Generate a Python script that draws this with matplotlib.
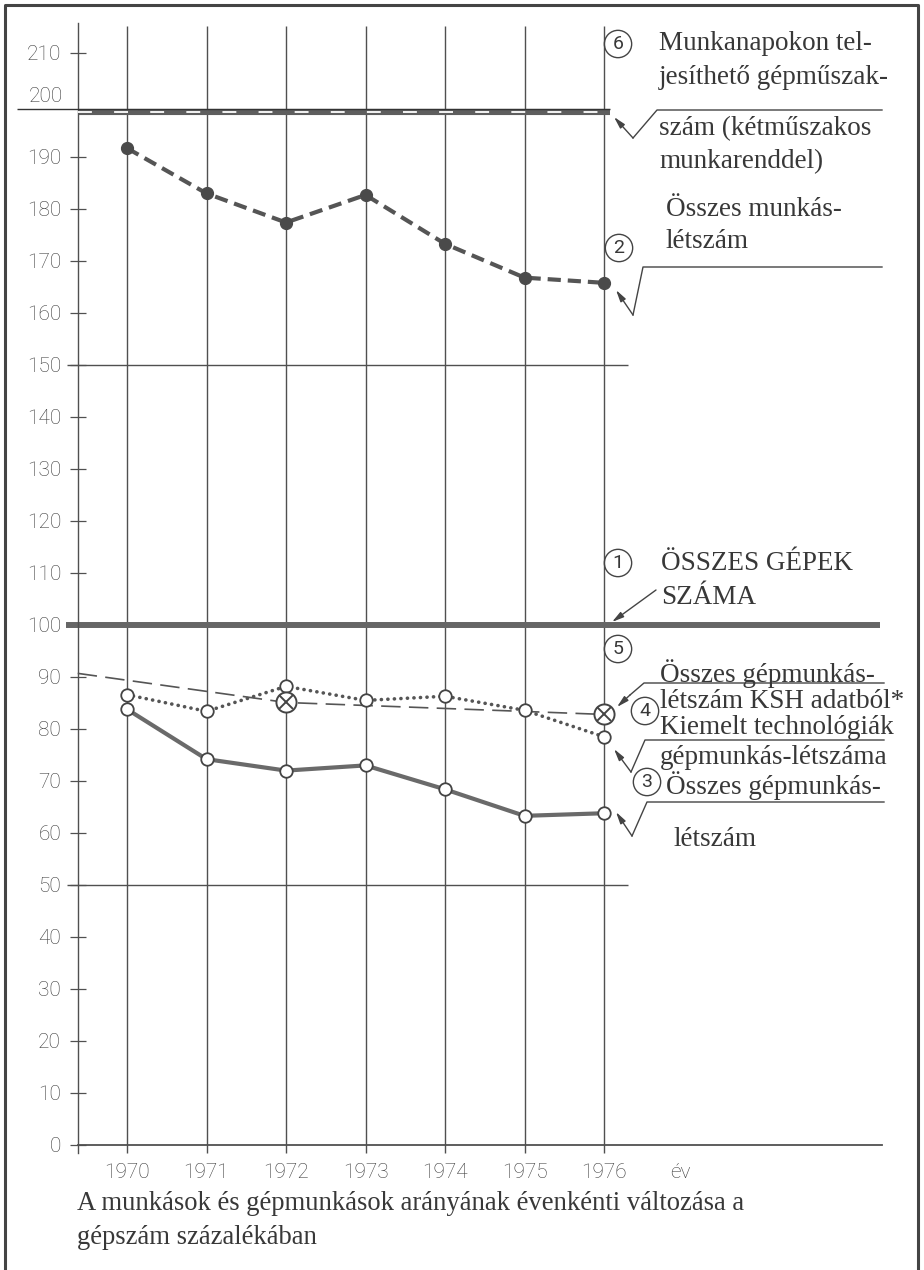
import matplotlib
matplotlib.use("Agg")
import matplotlib.pyplot as plt
import matplotlib.transforms as mtransforms
from matplotlib.lines import Line2D

plt.rcParams["lines.scale_dashes"] = False

# ---------------- data ----------------
years = [1970, 1971, 1972, 1973, 1974, 1975, 1976]
total_workers = [191.7, 183.0, 177.4, 182.7, 173.3, 166.8, 165.8]      # (2)
machine_workers = [83.8, 74.2, 72.0, 73.0, 68.4, 63.3, 63.8]          # (3)
key_tech_workers = [86.6, 83.4, 88.2, 85.5, 86.3, 83.6, 78.5]         # (4)
ksh_years = [1972, 1976]                                                # (5)
ksh_values = [85.1, 82.8]
ksh_trend_years = [1969.38, 1972, 1976]
ksh_trend_values = [90.7, 85.1, 82.8]
machines_total = 100                                                    # (1)
shift_capacity = 198.6                                                  # (6)
ytick_values = [v for v in range(0, 220, 10) if v != 200]
year_labels = [str(y) for y in years]

# ---------------- figure / axes ----------------
W, H = 924, 1270
fig = plt.figure(figsize=(W / 100, H / 100), dpi=100)
ax = fig.add_axes([0, 0, 1, 1])
X1970, PXY = 127, 79.5
Y0, PXU = 1145, 5.2
ax.set_xlim(1970 - X1970 / PXY, 1970 + (W - X1970) / PXY)
ax.set_ylim(-(H - Y0) / PXU, Y0 / PXU)
ax.patch.set_alpha(0)

pix = mtransforms.Affine2D().scale(1 / W, -1 / H).translate(0, 1) + fig.transFigure

GRID = "#505050"
LBL = "#3a3a3a"
SERIF = "Liberation Serif"
SANS = "Roboto"

axis_x = 1969.38
for s in ["top", "right"]:
    ax.spines[s].set_visible(False)
ax.spines["left"].set_position(("data", axis_x))
ax.spines["left"].set_bounds(-1.6, 215.8)
ax.spines["left"].set_color(GRID)
ax.spines["left"].set_linewidth(1.0)
ax.spines["bottom"].set_position(("data", 0))
ax.spines["bottom"].set_bounds(axis_x, 1979.5)
ax.spines["bottom"].set_color(GRID)
ax.spines["bottom"].set_linewidth(1.3)

ax.set_yticks(ytick_values)
ax.set_yticklabels([str(v) for v in ytick_values], fontfamily=SANS, fontweight="light")
ax.tick_params(axis="y", direction="inout", length=12, width=0.9, pad=6,
               labelsize=15, colors=GRID, labelcolor=LBL)
ax.set_xticks(years + [1976.96])
ax.set_xticklabels(year_labels + ["év"], fontfamily=SANS, fontweight="light")
ax.tick_params(axis="x", length=0, pad=13, labelsize=15, labelcolor=LBL)

# "200" label (no tick)
fig.text(63, 97, "200", transform=pix, ha="right", va="center",
         fontsize=15, fontfamily=SANS, fontweight="light", color=LBL)

# vertical year lines
ax.vlines(years, -1.6, 215.2, color=GRID, lw=1.0, zorder=1)
# thin horizontal lines at 150 and 50
ax.hlines([150, 50], axis_x - 0.14, 1976.3, color=GRID, lw=1.0, zorder=1)

# (6) shift capacity line
ax.hlines(shift_capacity + 0.6, 1968.62, 1976.08, color="#333333", lw=1.0, zorder=3)
ax.hlines(shift_capacity, axis_x, 1976.08, color="#5e5e5e", lw=4.4, zorder=2)
ax.hlines(shift_capacity, axis_x, 1976.08, color="white", lw=1.3,
          linestyles=(0, (10, 16)), zorder=3)

# (1) total machines
ax.hlines(machines_total, 1969.23, 1979.47, color="#666666", lw=4.3, zorder=2)

# (2) total workers
ax.plot(years, total_workers, color="#555555", lw=3.0, dashes=(9.5, 5),
        marker="o", ms=8.5, mfc="#4a4a4a", mec="#4a4a4a", zorder=4)

# (5) KSH trend
ax.plot(ksh_trend_years, ksh_trend_values, color="#555555", lw=1.2,
        dashes=(14, 6), zorder=3)

# (4) key technologies, dotted
ax.plot(years, key_tech_workers, color="#555555", lw=2.6, dashes=(0.1, 4.6),
        dash_capstyle="round", zorder=4)
ax.plot(years, key_tech_workers, ls="none", marker="o", ms=9, mfc="white",
        mec="#444444", mew=1.3, zorder=6)

# (3) machine workers
ax.plot(years, machine_workers, color="#6a6a6a", lw=3.0, solid_capstyle="round",
        zorder=4)
ax.plot(years, machine_workers, ls="none", marker="o", ms=9, mfc="white",
        mec="#444444", mew=1.3, zorder=6)

# (5) KSH points ⊗
ax.plot(ksh_years, ksh_values, ls="none", marker="o", ms=14.5, mfc="white",
        mec="#444444", mew=1.4, zorder=7)
ax.plot(ksh_years, ksh_values, ls="none", marker="x", ms=9.5, mec="#444444",
        mew=1.4, zorder=8)

ax.set_zorder(1)

# ---------------- annotations (right side) ----------------
def txt(x, y, s, size=19.5, **kw):
    fig.text(x, y, s, transform=pix, ha="left", va="center", fontsize=size,
             fontfamily=SERIF, color="#383838", **kw)

def circ(x, y, d):
    fig.text(x, y, d, transform=pix, ha="center", va="center", fontsize=14,
             fontfamily=SANS, color="#383838",
             bbox=dict(boxstyle="circle,pad=0.24", fc="none", ec="#444444", lw=1.0))

def seg(pts, lw=1.0):
    xs = [p[0] for p in pts]
    ys = [p[1] for p in pts]
    fig.add_artist(Line2D(xs, ys, transform=pix, color="#444444", lw=lw))

def arrow(frm, to):
    ax.annotate("", xy=to, xycoords=pix, xytext=frm, textcoords=pix,
                arrowprops=dict(arrowstyle="-|>,head_length=0.7,head_width=0.18",
                                color="#444444", lw=1.0, shrinkA=0, shrinkB=0))

# (6)
circ(618, 44, "6")
txt(659, 44, "Munkanapokon tel-")
txt(659, 78, "jesíthető gépműszak-")
seg([(882, 110), (657, 110), (633, 138)])
arrow((633, 138), (614, 117))
txt(659, 129, "szám (kétműszakos")
txt(659, 162, "munkarenddel)")

# (2)
txt(666, 210, "Összes munkás-")
circ(619, 248, "2")
txt(666, 241, "létszám")
seg([(882, 267), (643, 267), (633, 315)])
arrow((633, 315), (616, 290))

# (1)
circ(618, 563, "1")
txt(661, 563, "ÖSSZES GÉPEK")
txt(661, 597, "SZÁMA")
arrow((656, 590), (612, 622))

# (5)
circ(618, 649, "5")
txt(660, 674, "Összes gépmunkás-")
seg([(884, 683), (644, 683), (630, 695)])
arrow((630, 695), (617, 707))
txt(660, 702, "létszám KSH adatból*")
circ(645, 711, "4")
txt(660, 728, "Kiemelt technológiák")
seg([(884, 740), (645, 740), (631, 772)])
arrow((631, 772), (614, 749))
txt(660, 758, "gépmunkás-létszáma")
circ(647, 782, "3")
txt(666, 786, "Összes gépmunkás-")
seg([(884, 802), (647, 802), (632, 836)])
arrow((632, 836), (616, 812))
txt(673, 840, "létszám")

# caption
txt(77, 1203, "A munkások és gépmunkások arányának évenkénti változása a", size=19.2)
txt(77, 1237, "gépszám százalékában", size=19.2)

# frame
seg([(5, H), (5, 5), (918, 5), (918, H)], lw=2.2)

fig.savefig("out.png", dpi=100, facecolor="white")
